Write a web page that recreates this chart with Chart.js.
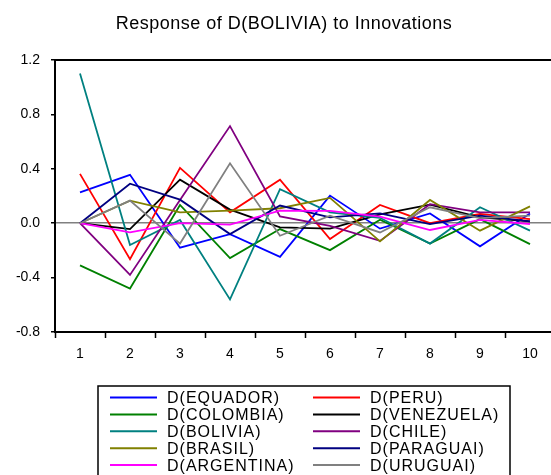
<!DOCTYPE html>
<html>
<head>
<meta charset="utf-8">
<script src="https://cdn.jsdelivr.net/npm/chart.js@4/dist/chart.umd.min.js"></script>
<style>
  html, body { margin: 0; padding: 0; background: #fff; overflow: hidden; }
  canvas { display: block; }
</style>
</head>
<body>
<canvas id="irf" width="560" height="475"></canvas>
<script>
// Impulse responses of D(BOLIVIA), periods 1..10
const chartTitle = 'Response of D(BOLIVIA) to Innovations';
const periods = ['1', '2', '3', '4', '5', '6', '7', '8', '9', '10'];
const yTickValues = [1.2, 0.8, 0.4, 0.0, -0.4, -0.8];

const seriesNames = ['D(EQUADOR)', 'D(PERU)', 'D(COLOMBIA)', 'D(VENEZUELA)', 'D(BOLIVIA)',
                     'D(CHILE)', 'D(BRASIL)', 'D(PARAGUAI)', 'D(ARGENTINA)', 'D(URUGUAI)'];
const seriesColors = ['#0000FF', '#FF0000', '#008000', '#000000', '#008080',
                      '#800080', '#808000', '#000080', '#FF00FF', '#808080'];

const equador   = [0.227, 0.356, -0.180, -0.080, -0.247, 0.203, -0.040, 0.072, -0.170, 0.072];
const peru      = [0.363, -0.264, 0.407, 0.080, 0.320, -0.117, 0.134, 0.000, 0.068, 0.030];
const colombia  = [-0.310, -0.480, 0.134, -0.257, -0.043, -0.198, 0.026, -0.150, 0.030, -0.154];
const venezuela = [0.000, -0.043, 0.320, 0.100, -0.030, -0.040, 0.065, 0.137, 0.043, 0.013];
const bolivia   = [1.100, -0.160, 0.024, -0.560, 0.250, 0.080, 0.040, -0.150, 0.117, -0.055];
const chile     = [0.000, -0.380, 0.170, 0.714, 0.050, -0.020, -0.130, 0.140, 0.080, 0.080];
const brasil    = [0.000, 0.166, 0.080, 0.092, 0.110, 0.186, -0.134, 0.171, -0.055, 0.124];
const paraguai  = [0.000, 0.290, 0.173, -0.080, 0.130, 0.043, 0.072, -0.006, 0.055, 0.013];
const argentina = [0.000, -0.068, 0.000, -0.010, 0.092, 0.090, 0.048, -0.050, 0.024, -0.006];
const uruguai   = [0.000, 0.166, -0.150, 0.440, -0.092, 0.055, -0.068, 0.117, 0.038, 0.055];

const seriesValues = [equador, peru, colombia, venezuela, bolivia,
                      chile, brasil, paraguai, argentina, uruguai];

const FONT = '"Liberation Sans", Arial, sans-serif';

// Later series are painted over earlier ones
const datasets = seriesNames.map((name, i) => ({
  label: name,
  data: seriesValues[i],
  borderColor: seriesColors[i],
  backgroundColor: seriesColors[i],
  borderWidth: 1.8,
  pointRadius: 0,
  tension: 0,
  fill: false,
  order: seriesNames.length - i
}));

// Box around the plot (top edge) and the heading
const framePlugin = {
  id: 'frame',
  afterDraw(chart) {
    const { ctx, chartArea: a } = chart;
    ctx.save();
    ctx.strokeStyle = '#000';
    ctx.lineWidth = 2;
    ctx.beginPath();
    ctx.moveTo(a.left, a.top);
    ctx.lineTo(a.right, a.top);
    ctx.lineTo(a.right, a.bottom);
    ctx.stroke();

    ctx.fillStyle = '#000';
    ctx.font = '18px ' + FONT;
    ctx.letterSpacing = '0.5px';
    ctx.textAlign = 'center';
    ctx.textBaseline = 'alphabetic';
    ctx.fillText(chartTitle, 284, 29);
    ctx.restore();
  }
};

// Two-column key under the plot
const keyPlugin = {
  id: 'key',
  afterDraw(chart) {
    const { ctx } = chart;
    ctx.save();
    ctx.strokeStyle = '#000';
    ctx.lineWidth = 1.5;
    ctx.strokeRect(98, 386, 412, 100);

    ctx.font = '16px ' + FONT;
    ctx.letterSpacing = '1px';
    ctx.textAlign = 'left';
    ctx.textBaseline = 'middle';
    const colX = [110, 313];
    const rowY0 = 397.5, rowStep = 16.9;
    seriesNames.forEach((name, i) => {
      const col = i % 2, row = Math.floor(i / 2);
      const x = colX[col], y = rowY0 + row * rowStep;
      ctx.strokeStyle = seriesColors[i];
      ctx.lineWidth = 2;
      ctx.beginPath();
      ctx.moveTo(x, y);
      ctx.lineTo(x + 47, y);
      ctx.stroke();
      ctx.fillStyle = '#000';
      ctx.fillText(name, x + 57, y + 1);
    });
    ctx.restore();
  }
};

new Chart(document.getElementById('irf'), {
  type: 'line',
  data: { labels: periods, datasets },
  options: {
    responsive: false,
    animation: false,
    devicePixelRatio: 1,
    layout: { padding: { top: 60, right: 5, bottom: 113, left: 0 } },
    plugins: {
      legend: { display: false },
      title: { display: false },
      tooltip: { enabled: false }
    },
    scales: {
      x: {
        type: 'category',
        offset: true,
        afterFit(s) { s.height = 30; },
        grid: {
          offset: true,
          drawOnChartArea: false,
          tickLength: 6,
          tickColor: '#000',
          tickWidth: 1.5
        },
        border: { color: '#000', width: 2 },
        ticks: {
          color: '#000',
          padding: 8,
          maxRotation: 0,
          font: { family: FONT, size: 14 }
        }
      },
      y: {
        min: -0.8,
        max: 1.2,
        afterFit(s) { s.width = 55; },
        afterBuildTicks(s) { s.ticks = yTickValues.map(v => ({ value: v })); },
        grid: {
          color: c => (c.tick && Math.abs(c.tick.value) < 1e-9) ? '#808080' : 'rgba(0,0,0,0)',
          lineWidth: 1.5,
          tickLength: 4,
          tickColor: '#000',
          tickWidth: 1.5
        },
        border: { color: '#000', width: 2 },
        ticks: {
          color: '#000',
          padding: 11,
          font: { family: FONT, size: 14 },
          callback: v => Number(v).toFixed(1)
        }
      }
    }
  },
  plugins: [framePlugin, keyPlugin]
});
</script>
</body>
</html>
